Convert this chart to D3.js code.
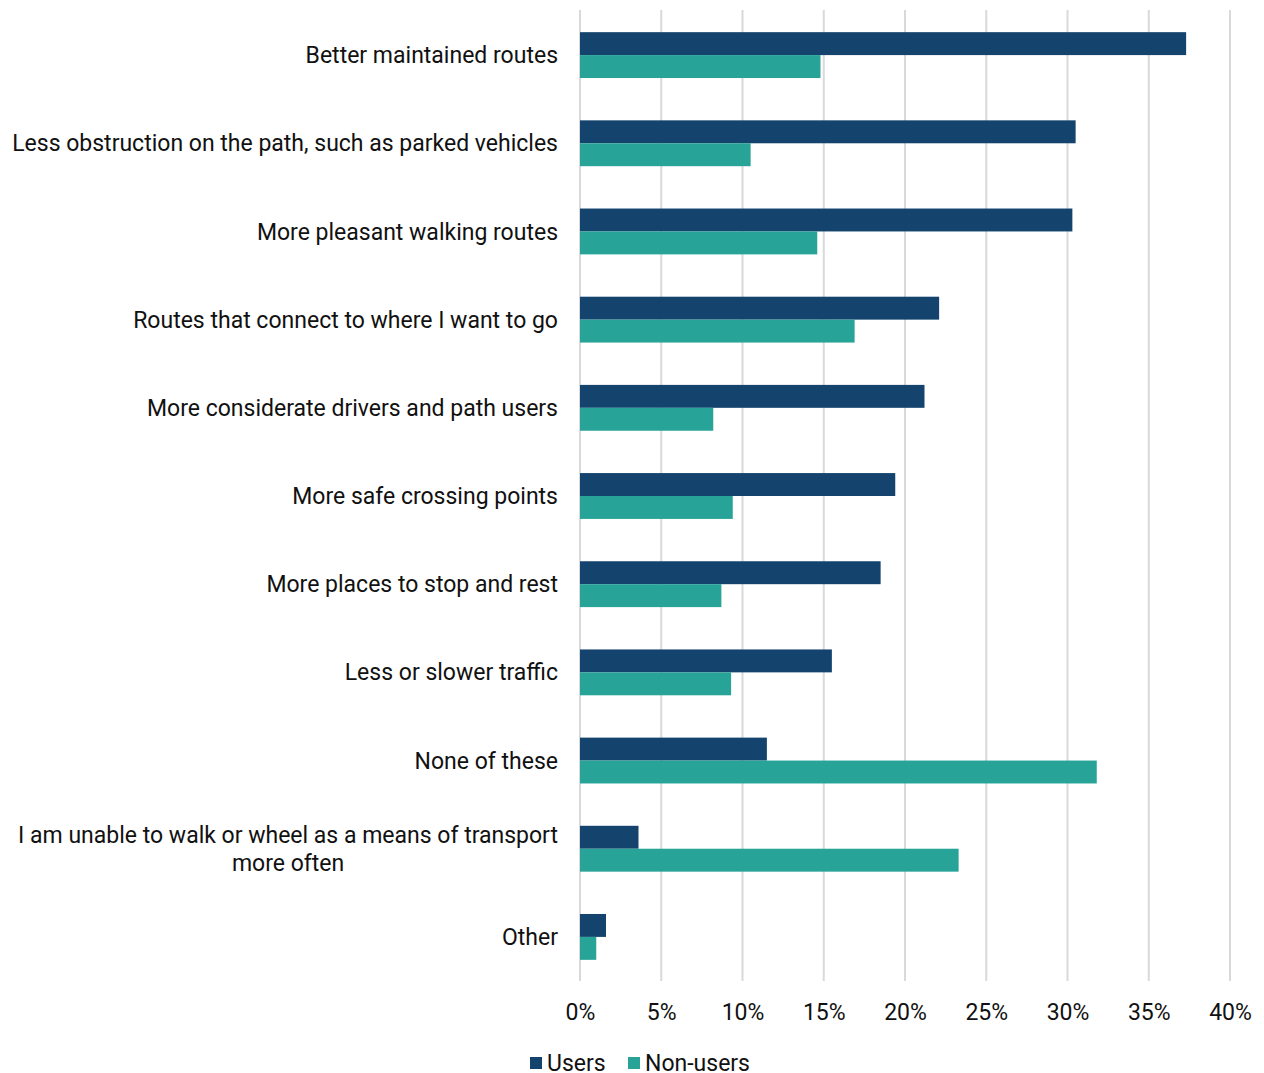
<!DOCTYPE html>
<html>
<head>
<meta charset="utf-8">
<script src="https://cdn.jsdelivr.net/npm/d3@7"></script>
<style>
  body { margin: 0; background: #fff; }
  text { font-family: Roboto, "Open Sans", sans-serif; fill: #111; }
</style>
</head>
<body>
<svg width="1264" height="1073"></svg>
<script>
// data
var categories = [
  "Better maintained routes",
  "Less obstruction on the path, such as parked vehicles",
  "More pleasant walking routes",
  "Routes that connect to where I want to go",
  "More considerate drivers and path users",
  "More safe crossing points",
  "More places to stop and rest",
  "Less or slower traffic",
  "None of these",
  "I am unable to walk or wheel as a means of transport more often",
  "Other"
];
var seriesNames = ["Users", "Non-users"];
var users    = [37.3, 30.5, 30.3, 22.1, 21.2, 19.4, 18.5, 15.5, 11.5, 3.6, 1.6];
var nonUsers = [14.8, 10.5, 14.6, 16.9, 8.2, 9.4, 8.7, 9.3, 31.8, 23.3, 1.0];
var tickValues = [0, 5, 10, 15, 20, 25, 30, 35, 40];
var colors = ["#14446e", "#28a397"];

var svg = d3.select('svg');

var plotLeft = 580, plotRight = 1230, plotTop = 11, plotBottom = 981;
var fontSize = '23px';

var x = d3.scaleLinear().domain([0, 40]).range([plotLeft, plotRight]);
var y = d3.scaleBand().domain(categories).range([plotTop, plotBottom]).paddingInner(0.48).paddingOuter(0.24);
var ySub = d3.scaleBand().domain(seriesNames).range([0, y.bandwidth()]);

// gridlines
svg.append('g').selectAll('line')
  .data(tickValues)
  .join('line')
    .attr('x1', function(d) { return x(d); })
    .attr('x2', function(d) { return x(d); })
    .attr('y1', plotTop - 1)
    .attr('y2', plotBottom)
    .style('stroke', '#d9d9d9')
    .style('stroke-width', 2);

// x axis labels
var xAxis = d3.axisBottom(x).tickValues(tickValues).tickSize(0).tickPadding(0)
  .tickFormat(function(d) { return d + '%'; });
var gx = svg.append('g').attr('transform', 'translate(0,' + 1004 + ')').call(xAxis);
gx.select('.domain').remove();
gx.selectAll('text').style('font-size', fontSize).style('font-family', 'Roboto, sans-serif').attr('fill', '#111');

// bars
var rows = categories.map(function(c, i) { return { cat: c, vals: [users[i], nonUsers[i]] }; });
var groups = svg.append('g').selectAll('g')
  .data(rows)
  .join('g')
    .attr('transform', function(d) { return 'translate(0,' + y(d.cat) + ')'; });

groups.selectAll('rect')
  .data(function(d) { return d.vals.map(function(v, k) { return { name: seriesNames[k], v: v, k: k }; }); })
  .join('rect')
    .attr('x', x(0))
    .attr('y', function(d) { return ySub(d.name); })
    .attr('width', function(d) { return x(d.v) - x(0); })
    .attr('height', ySub.bandwidth())
    .style('fill', function(d) { return colors[d.k]; });

// category labels, wrapped where the reference wraps
var labelLines = function(c) {
  if (c.indexOf('I am unable') === 0) {
    return ["I am unable to walk or wheel as a means of transport", "more often"];
  }
  return [c];
};

var labels = svg.append('g').selectAll('text')
  .data(categories)
  .join('text')
    .style('font-size', fontSize);

labels.each(function(c) {
  var lines = labelLines(c);
  var t = d3.select(this);
  var cy = y(c) + y.bandwidth() / 2;
  if (lines.length === 1) {
    t.attr('x', 558).attr('y', cy).attr('dy', '0.35em').attr('text-anchor', 'end').text(lines[0]);
  } else {
    // two lines centred on the block that ends at 558
    t.text(lines[0]);
    var w = this.getComputedTextLength();
    t.text(null);
    var cx = 558 - w / 2;
    lines.forEach(function(l, j) {
      t.append('tspan')
        .attr('x', cx)
        .attr('y', cy + (j - (lines.length - 1) / 2) * 28)
        .attr('dy', '0.35em')
        .attr('text-anchor', 'middle')
        .text(l);
    });
  }
});

// legend
var legend = svg.append('g').attr('transform', 'translate(530,1063)');
var legX = [0, 98];
seriesNames.forEach(function(n, k) {
  legend.append('rect')
    .attr('x', legX[k]).attr('y', -6)
    .attr('width', 12).attr('height', 12)
    .style('fill', colors[k]);
  legend.append('text')
    .attr('x', legX[k] + 17).attr('y', 0)
    .attr('dy', '0.35em')
    .style('font-size', fontSize)
    .text(n);
});
</script>
</body>
</html>
